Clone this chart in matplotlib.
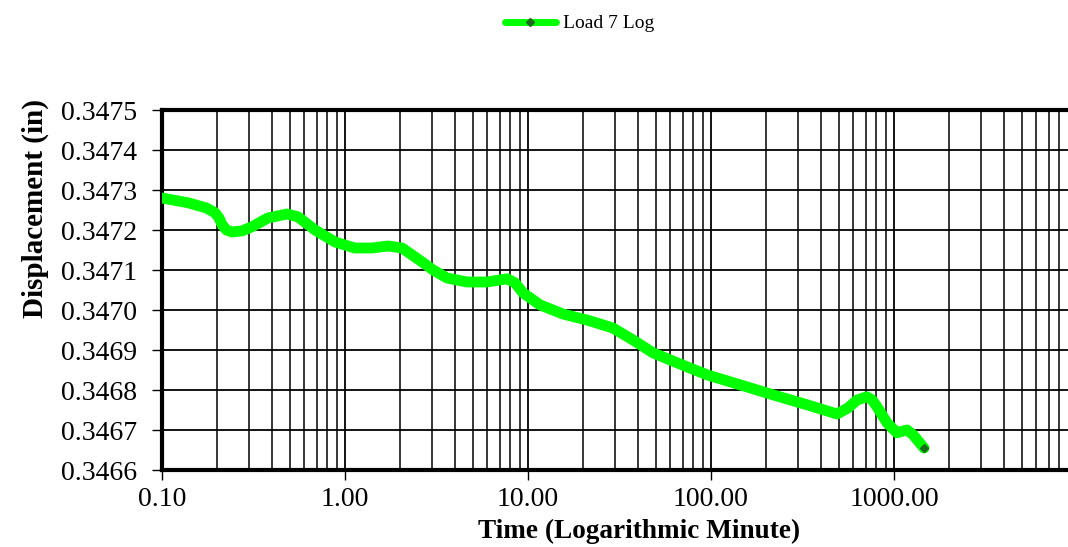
import matplotlib.pyplot as plt
from matplotlib.ticker import FixedLocator, LogLocator, NullFormatter, FuncFormatter

# time (minutes) and displacement (in)
time_min = [0.1, 0.139, 0.175, 0.195, 0.205, 0.213, 0.225, 0.241, 0.275, 0.310, 0.379, 0.482,
            0.553, 0.686, 0.882, 1.13, 1.40, 1.72, 2.05, 2.64, 3.03, 3.61, 4.64, 5.97,
            7.68, 8.49, 9.39, 11.6, 15.5, 21.0, 29.1, 37.5, 48.2, 65.2, 95.1,
            144, 218, 335, 488, 560, 628, 711, 760, 807, 916, 1038, 1110, 1178, 1271, 1459]
displacement = [0.34728, 0.347268, 0.347255, 0.347243, 0.34723, 0.347213, 0.347200, 0.347195,
                0.347198, 0.347208, 0.34723, 0.34724, 0.347233, 0.3472, 0.34717, 0.347155,
                0.347155, 0.34716, 0.347155, 0.34712, 0.3471, 0.34708, 0.34707, 0.34707,
                0.347078, 0.347068, 0.347043, 0.347013, 0.34699, 0.346975, 0.346955,
                0.346925, 0.346893, 0.346868, 0.346838, 0.346813, 0.346788, 0.346763,
                0.34674, 0.346755, 0.346775, 0.346783, 0.346775, 0.346758, 0.346718,
                0.346693, 0.346697, 0.3467, 0.346688, 0.346655]
series_name = 'Load 7 Log'
x_ticks = [0.1, 1, 10, 100, 1000]
y_ticks = [0.3466 + i * 0.0001 for i in range(10)]

plt.rcParams['font.family'] = ['Liberation Serif', 'DejaVu Serif']

fig = plt.figure(figsize=(10.68, 5.47), dpi=100)
ax = fig.add_axes([162 / 1068, 77 / 547, 915 / 1068, 360 / 547])

ax.plot(time_min, displacement, color='#00ff00', lw=7.8, solid_capstyle='round',
        solid_joinstyle='round', marker='D', ms=4, mfc='#1a6b1a', mec='#1a6b1a',
        markevery=[len(time_min) - 1], label=series_name, zorder=3)

ax.set_xscale('log')
ax.set_xlim(0.1, 10000)
ax.set_ylim(0.3466, 0.3475)
ax.xaxis.set_major_locator(FixedLocator(x_ticks))
ax.xaxis.set_major_formatter(FuncFormatter(lambda v, p: f'{v:.2f}'))
ax.xaxis.set_minor_locator(LogLocator(base=10, subs=range(2, 10), numticks=20))
ax.xaxis.set_minor_formatter(NullFormatter())
ax.set_yticks(y_ticks)
ax.set_yticklabels([f'{v:.4f}' for v in y_ticks])

ax.grid(which='major', color='black', lw=1.3)
ax.grid(which='minor', axis='x', color='black', lw=1.1)
ax.tick_params(axis='both', which='major', labelsize=20, length=7, width=1, direction='out')
ax.tick_params(axis='y', pad=11)
ax.tick_params(axis='x', which='minor', length=0)
ax.tick_params(axis='x', pad=5)

for s in ['left', 'top', 'bottom']:
    ax.spines[s].set_linewidth(3)
ax.spines['right'].set_visible(False)

ax.set_xlabel('Time (Logarithmic Minute)', fontsize=19.6, fontweight='bold')
ax.set_ylabel('Displacement (in)', fontsize=21, fontweight='bold')
ax.xaxis.set_label_coords(0.521, -0.137)
ax.yaxis.set_label_coords(-0.124, 0.725)

leg = fig.legend(loc='upper center', bbox_to_anchor=(0.543, 1.005), frameon=False,
                 fontsize=14, handlelength=2.6, handletextpad=0.4)
leg.get_lines()[0].set_linewidth(5)

fig.savefig('out.png', dpi=100)
